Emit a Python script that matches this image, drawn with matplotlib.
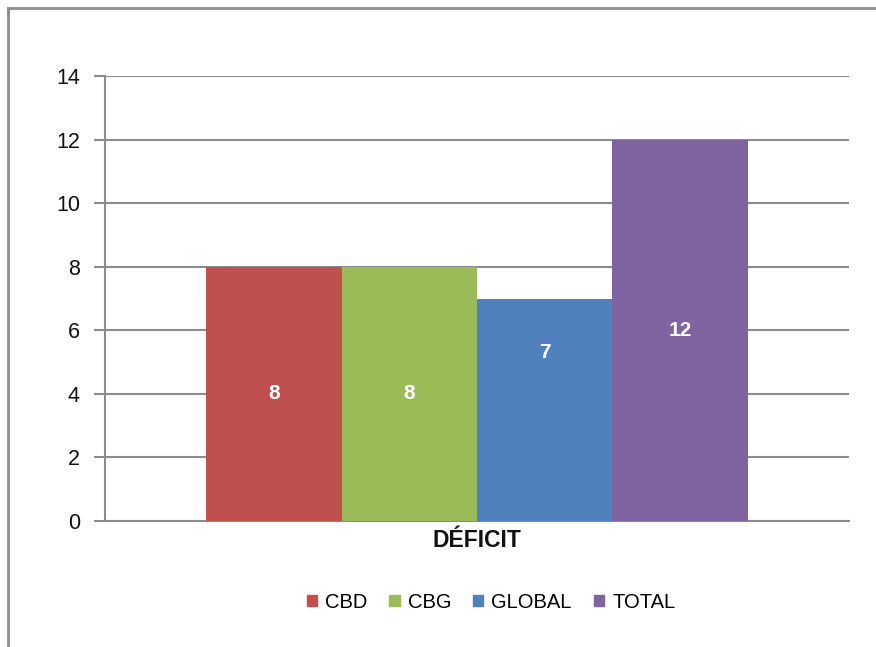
import matplotlib.pyplot as plt
from matplotlib.patches import Rectangle
from matplotlib.lines import Line2D

plt.rcParams['font.family'] = ['Liberation Sans', 'DejaVu Sans']

# Data
category = "DÉFICIT"
series = ["CBD", "CBG", "GLOBAL", "TOTAL"]
values = [8, 8, 7, 12]
label_heights = [4, 4, 5.3, 6]  # where the value labels sit in the original
colors = ["#C0504D", "#9BBB59", "#4F81BD", "#8064A2"]
yticks = [0, 2, 4, 6, 8, 10, 12, 14]

fig = plt.figure(figsize=(8.76, 6.47), dpi=100)
ax = fig.add_axes([105 / 876, 1 - 521 / 647, 744 / 876, 445 / 647])

bar_w = 0.182
n = len(series)
for i, (name, val, col) in enumerate(zip(series, values, colors)):
    x = (i - (n - 1) / 2) * bar_w
    ax.bar(x, val, width=bar_w, color=col, zorder=3, label=name)
    ax.text(x, label_heights[i], str(val), ha="center", va="center", color="white",
            fontsize=15, fontweight="bold", zorder=4)

ax.set_xlim(-0.5, 0.5)
ax.set_ylim(0, 14)
ax.set_yticks(yticks)
ax.set_yticklabels([str(t) for t in yticks], fontsize=15.5, color="#111111")
ax.set_xticks([0])
ax.set_xticklabels([category], fontsize=16.5, fontweight="bold", color="#111111")
ax.tick_params(axis="x", length=0, pad=6)
ax.tick_params(axis="y", length=8, width=1.5, color="#8c8c8c", pad=10)

ax.grid(axis="y", color="#8c8c8c", linewidth=1.5, zorder=0)
for side in ["top", "right"]:
    ax.spines[side].set_visible(False)
for side in ["left", "bottom"]:
    ax.spines[side].set_color("#8c8c8c")
    ax.spines[side].set_linewidth(1.5)

# legend below the plot
handles = [Rectangle((0, 0), 1, 1, color=c) for c in colors]
fig.legend(handles, series, loc="center", bbox_to_anchor=(491 / 876, 1 - 602 / 647),
           ncol=4, frameon=False, fontsize=14.5, handlelength=0.5, handleheight=0.5,
           handletextpad=0.4, columnspacing=1.1)

# outer chart border (cropped at right and bottom)
fig.add_artist(Line2D([8 / 876, 8 / 876], [0, 1 - 8 / 647], color="#8c8c8c", linewidth=2))
fig.add_artist(Line2D([8 / 876, 1], [1 - 8 / 647, 1 - 8 / 647], color="#8c8c8c", linewidth=2))

fig.savefig("out.png", dpi=100)
